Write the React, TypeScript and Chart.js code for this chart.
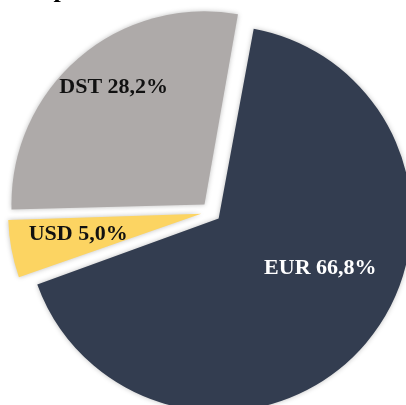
import React, { useEffect, useRef } from "react";
import { Chart, registerables } from "chart.js";

Chart.register(...registerables);

const categories = ["EUR", "USD", "DST"];
const shares = [66.8, 5.0, 28.2];
const valueLabels = ["66,8%", "5,0%", "28,2%"];
const sliceColors = ["#333D50", "#FCD462", "#AEAAA9"];
const labelColors = ["#FFFFFF", "#111111", "#111111"];

const SLICE_OFFSET = 40; // Chart.js draws offset/4 px of translation
const PIE_RADIUS = 193;

// Chart.js also grows an offset arc's radius by offset/4 * (1 - sin(min(PI, circ)));
// cancel that so every exploded slice keeps the same radius.
const radiusGrowth = (arc: any) =>
  (SLICE_OFFSET / 4) * (1 - Math.sin(Math.min(Math.PI, arc.circumference || 0)));

const labelPlugin = {
  id: "sliceLabels",
  afterDatasetUpdate(chart: any) {
    const meta = chart.getDatasetMeta(0);
    meta.data.forEach((arc: any) => {
      arc.outerRadius = PIE_RADIUS - radiusGrowth(arc);
    });
  },
  beforeDatasetsDraw(chart: any) {
    const ctx = chart.ctx;
    ctx.save();
    ctx.shadowColor = "rgba(0,0,0,0.25)";
    ctx.shadowBlur = 5;
  },
  afterDatasetsDraw(chart: any, _args: any, opts: any) {
    const ctx = chart.ctx;
    ctx.restore();
    const meta = chart.getDatasetMeta(0);
    ctx.save();
    ctx.font = "bold 22px 'Liberation Serif', 'Times New Roman', serif";
    ctx.textAlign = "center";
    ctx.textBaseline = "middle";
    meta.data.forEach((arc: any, i: number) => {
      const p = arc.getProps(["x", "y", "startAngle", "endAngle", "outerRadius", "circumference"], true);
      const mid = (p.startAngle + p.endAngle) / 2;
      const place = opts.place[i];
      const r = (p.outerRadius + radiusGrowth(p)) * place.f;
      const x = p.x + Math.cos(mid) * r + place.dx;
      const y = p.y + Math.sin(mid) * r + place.dy;
      ctx.fillStyle = labelColors[i];
      ctx.fillText(categories[i] + " " + valueLabels[i], x, y);
    });
    ctx.restore();
  },
};

export default function App() {
  const ref = useRef<HTMLCanvasElement | null>(null);
  useEffect(() => {
    if (!ref.current) return;
    const chart = new Chart(ref.current, {
      type: "pie",
      data: {
        labels: categories,
        datasets: [
          {
            data: shares,
            backgroundColor: sliceColors,
            borderWidth: 0,
            offset: SLICE_OFFSET,
            radius: PIE_RADIUS,
            clip: false,
          } as any,
        ],
      },
      options: {
        responsive: false,
        animation: false,
        rotation: 10,
        layout: { padding: { left: 16, right: 0, top: 19, bottom: 0 } },
        plugins: {
          legend: { display: false },
          tooltip: { enabled: false },
          title: { display: false },
          sliceLabels: {
            place: [
              { f: 0.62, dx: 18, dy: -21 },
              { f: 0.7, dx: 0, dy: -2 },
              { f: 0.82, dx: 6, dy: -5 },
            ],
          },
        } as any,
      },
      plugins: [labelPlugin],
    });
    return () => chart.destroy();
  }, []);
  return (
    <div style={{ position: "fixed", left: 0, top: 0, width: 406, height: 405, overflow: "hidden", background: "#fff" }}>
      <canvas ref={ref} width={406} height={405} style={{ position: "absolute", left: 0, top: 0 }} />
      <div
        style={{
          position: "absolute",
          left: 0,
          top: -24,
          width: 70,
          overflow: "hidden",
          font: "bold 26px 'Liberation Serif', serif",
          lineHeight: "26px",
          whiteSpace: "nowrap",
          color: "#000",
        }}
      >
        Compoziția valutară
      </div>
    </div>
  );
}
